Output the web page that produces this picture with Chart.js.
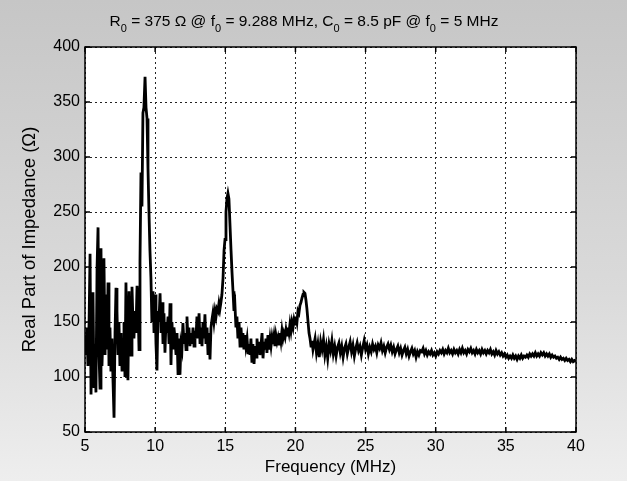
<!DOCTYPE html>
<html>
<head>
<meta charset="utf-8">
<script src="https://cdn.jsdelivr.net/npm/chart.js@4.4.1/dist/chart.umd.min.js"></script>
<style>
  html, body { margin: 0; padding: 0; background: #fff; }
  #wrap { width: 627px; height: 481px; }
</style>
</head>
<body>
<div id="wrap"><canvas id="impChart" width="627" height="481"></canvas></div>
<script>
// values (MHz, ohms)
const freqLow = [
  5.00,5.07,5.14,5.21,5.29,5.36,5.43,5.50,5.57,5.64,5.71,5.78,5.86,5.93,6.00,6.07,6.14,6.21,6.28,6.35,
  6.43,6.50,6.57,6.64,6.71,6.78,6.85,6.92,7.00,7.07,7.14,7.21,7.28,7.35,7.42,7.49,7.57,7.64,7.71,7.78,
  7.85,7.92,7.99,8.06,8.14,8.21,8.28,8.35,8.42,8.49,8.56,8.63,8.71,8.78,8.85,8.92,8.99,9.06,9.13,9.20,
  9.28,9.35,9.42,9.49,9.56,9.63,9.70,9.77,9.85,9.92,9.99
];
const realLow = [
  138,120,145,110,150,212,84,150,177,90,130,86,200,236,120,90,217,110,140,208,
  120,175,125,186,110,145,105,135,95,63,140,181,160,120,150,110,140,105,130,150,
  100,186,130,97,178,140,120,182,150,135,160,140,183,165,125,205,286,255,340,345,
  373,345,335,290,250,215,190,150,178,140,175
];

const freqMid = [
  10.06,10.13,10.20,10.27,10.35,10.42,10.49,10.56,10.63,10.70,10.77,10.84,10.92,10.99,11.06,11.13,11.20,11.27,11.34,11.41,
  11.49,11.56,11.63,11.70,11.77,11.84,11.91,11.98,12.06,12.13,12.20,12.27,12.34,12.41,12.48,12.56,12.63,12.70,12.77,12.84,
  12.91,12.98,13.05,13.13,13.20,13.27,13.34,13.41,13.48,13.55,13.62,13.70,13.77,13.84,13.91,13.98,14.05,14.12,14.19,14.27,
  14.34,14.41,14.48,14.55,14.62,14.69,14.76,14.84,14.91,14.98,15.05,15.12,15.19,15.26,15.33,15.41,15.48,15.55,15.62,15.69,
  15.76,15.83,15.90,15.98,16.05
];
const realMid = [
  130,106,160,150,176,140,168,130,158,122,150,140,155,130,167,111,150,125,145,136,
  120,140,103,135,102,130,125,149,130,140,125,155,132,145,128,140,130,145,128,142,
  135,155,135,158,130,145,128,150,135,157,130,145,120,140,116,145,152,158,150,160,
  155,162,160,167,162,168,175,190,215,225,250,262,267,262,240,215,195,178,160,165,
  145,155,135,150,128
];

const freqHigh = [
  16.12,16.19,16.26,16.33,16.40,16.47,16.55,16.62,16.69,16.76,16.83,16.90,16.97,17.05,17.12,17.19,17.26,17.33,17.40,17.47,
  17.54,17.62,17.69,17.76,17.83,17.90,17.97,18.04,18.11,18.19,18.26,18.33,18.40,18.47,18.54,18.61,18.69,18.76,18.83,18.90,
  18.97,19.04,19.11,19.18,19.26,19.33,19.40,19.47,19.54,19.61,19.68,19.75,19.83,19.90,19.97,20.04,20.11,20.18,20.25,20.32,
  20.40,20.47,20.54,20.61,20.68,20.75,20.82,20.90,20.97,21.04,21.11,21.18,21.25,21.32
];
const realHigh = [
  145,130,140,125,138,128,135,122,130,120,135,113,130,112,128,118,135,122,132,120,
  128,140,117,132,125,135,122,138,125,135,128,136,130,137,128,138,132,136,130,140,
  133,142,135,140,136,143,138,145,140,148,142,150,145,152,148,155,150,160,158,165,
  168,172,175,177,176,170,162,150,140,135,128,133,125,130
];

const freqTail = [
  21.4,21.5,21.6,21.7,21.8,21.9,22.0,22.1,22.2,22.3,22.4,22.5,22.6,22.7,22.8,22.9,23.0,23.1,23.2,23.3,
  23.4,23.5,23.6,23.7,23.8,23.9,24.0,24.1,24.2,24.3,24.4,24.5,24.6,24.7,24.8,24.9,25.0,25.1,25.2,25.3,
  25.4,25.5,25.6,25.7,25.8,25.9,26.0,26.1,26.2,26.3,26.4,26.5,26.6,26.7,26.8,26.9,27.0,27.1,27.2,27.3,
  27.4,27.5,27.6,27.7,27.8,27.9,28.0,28.1,28.2,28.3,28.4,28.5,28.6,28.7,28.8,28.9,29.0,29.1,29.2,29.3,
  29.4,29.5,29.6,29.7,29.8,29.9,30.0,30.1,30.2,30.3,30.4,30.5,30.6,30.7,30.8,30.9,31.0,31.1,31.2,31.3,
  31.4,31.5,31.6,31.7,31.8,31.9,32.0,32.1,32.2,32.3,32.4,32.5,32.6,32.7,32.8,32.9,33.0,33.1,33.2,33.3,
  33.4,33.5,33.6,33.7,33.8,33.9,34.0,34.1,34.2,34.3,34.4,34.5,34.6,34.7,34.8,34.9,35.0,35.1,35.2,35.3,
  35.4,35.5,35.6,35.7,35.8,35.9,36.0,36.1,36.2,36.3,36.4,36.5,36.6,36.7,36.8,36.9,37.0,37.1,37.2,37.3,
  37.4,37.5,37.6,37.7,37.8,37.9,38.0,38.1,38.2,38.3,38.4,38.5,38.6,38.7,38.8,38.9,39.0,39.1,39.2,39.3,
  39.4,39.5,39.6,39.7,39.8,39.9,40.0
];
const realTail = [
  135,122,130,118,132,125,134,120,128,117,130,124,133,121,128,119,127,131,122,128,
  118,126,130,121,127,132,123,129,119,126,131,124,128,120,127,133,125,129,121,127,
  123,130,125,128,122,129,126,131,124,128,122,127,130,125,129,123,127,121,125,128,
  122,126,120,124,127,121,125,119,123,126,121,124,118,123,120,124,123,126,121,124,
  120,123,121,124,120,122,119,123,121,124,122,125,121,124,122,126,122,124,121,125,
  122,124,121,125,122,126,122,124,121,125,123,126,122,124,121,125,122,124,121,125,
  122,124,121,124,122,125,121,123,120,124,121,123,120,122,119,121,118,120,117,119,
  117,120,117,119,116,119,117,120,117,119,118,120,118,121,119,121,119,122,119,121,
  119,122,120,122,119,121,119,121,118,120,118,119,117,118,116,118,116,117,115,117,
  115,116,114,116,114,115,114
];

const xTicks = [5, 10, 15, 20, 25, 30, 35, 40];
const yTicks = [50, 100, 150, 200, 250, 300, 350, 400];
const titleParts = [
  ['R', 0], ['0', 1], [' = 375 \u03A9 @ f', 0], ['0', 1], [' = 9.288 MHz, C', 0], ['0', 1],
  [' = 8.5 pF @ f', 0], ['0', 1], [' = 5 MHz', 0]
];

const FONT = "'Liberation Sans', Arial, sans-serif";

const freqAll = freqLow.concat(freqMid, freqHigh, freqTail);
const realAll = realLow.concat(realMid, realHigh, realTail);
const points = freqAll.map((f, i) => ({ x: f, y: realAll[i] }));

// grey scanned paper round a white axes box
const paperBg = {
  id: 'paperBg',
  beforeDraw(chart) {
    const { ctx, width, height, chartArea: a } = chart;
    ctx.save();
    const g = ctx.createLinearGradient(0, 0, 0, height);
    g.addColorStop(0, '#c6c6c6');
    g.addColorStop(0.6, '#dadada');
    g.addColorStop(1, '#eeeeee');
    ctx.fillStyle = g;
    ctx.fillRect(0, 0, width, height);
    ctx.fillStyle = '#fff';
    ctx.fillRect(a.left, a.top, a.right - a.left, a.bottom - a.top);
    ctx.restore();
  }
};

// matlab style box with ticks pointing inwards
const axesBox = {
  id: 'axesBox',
  afterDraw(chart) {
    const { ctx, chartArea: a, scales } = chart;
    ctx.save();
    ctx.strokeStyle = '#000';
    ctx.lineWidth = 1.5;
    ctx.beginPath();
    xTicks.forEach(v => {
      const px = scales.x.getPixelForValue(v);
      ctx.moveTo(px, a.bottom); ctx.lineTo(px, a.bottom - 5);
      ctx.moveTo(px, a.top); ctx.lineTo(px, a.top + 5);
    });
    yTicks.forEach(v => {
      const py = scales.y.getPixelForValue(v);
      ctx.moveTo(a.left, py); ctx.lineTo(a.left + 5, py);
      ctx.moveTo(a.right, py); ctx.lineTo(a.right - 5, py);
    });
    ctx.stroke();
    ctx.strokeRect(a.left, a.top, a.right - a.left, a.bottom - a.top);
    ctx.restore();
  }
};

// title with subscript zeros
const subTitle = {
  id: 'subTitle',
  afterDraw(chart) {
    const ctx = chart.ctx;
    const big = '15.5px ' + FONT, small = '11px ' + FONT;
    ctx.save();
    let total = 0;
    titleParts.forEach(([t, sub]) => { ctx.font = sub ? small : big; total += ctx.measureText(t).width; });
    let x = 304 - total / 2;
    const base = 26;
    ctx.fillStyle = '#000';
    ctx.textBaseline = 'alphabetic';
    titleParts.forEach(([t, sub]) => {
      ctx.font = sub ? small : big;
      ctx.fillText(t, x, sub ? base + 6 : base);
      x += ctx.measureText(t).width;
    });
    ctx.restore();
  }
};

new Chart(document.getElementById('impChart'), {
  type: 'line',
  data: {
    datasets: [{
      data: points,
      borderColor: '#000',
      borderWidth: 2.8,
      pointRadius: 0,
      tension: 0,
      fill: false
    }]
  },
  options: {
    responsive: false,
    animation: false,
    devicePixelRatio: 1,
    layout: { padding: { top: 47, right: 51, left: 0, bottom: 0 } },
    plugins: {
      legend: { display: false },
      title: { display: false },
      tooltip: { enabled: false }
    },
    scales: {
      x: {
        type: 'linear',
        min: 5,
        max: 40,
        afterBuildTicks: s => { s.ticks = xTicks.map(v => ({ value: v })); },
        afterFit: s => { s.height = 49; },
        grid: { color: '#222', lineWidth: 1, drawTicks: false },
        border: { display: false, dash: [2, 3] },
        ticks: { color: '#000', font: { family: FONT, size: 16 }, padding: 5, maxRotation: 0, autoSkip: false },
        title: { display: true, text: 'Frequency (MHz)', color: '#000', font: { family: FONT, size: 17 }, padding: { top: 0, bottom: 3 } }
      },
      y: {
        min: 50,
        max: 400,
        afterBuildTicks: s => { s.ticks = yTicks.map(v => ({ value: v })); },
        afterFit: s => { s.width = 85; },
        grid: { color: '#222', lineWidth: 1, drawTicks: false },
        border: { display: false, dash: [2, 3] },
        ticks: { color: '#000', font: { family: FONT, size: 16 }, padding: 5, autoSkip: false },
        title: { display: true, text: 'Real Part of Impedance (\u03A9)', color: '#000', font: { family: FONT, size: 18.5 }, padding: { top: 19, bottom: 0 } }
      }
    }
  },
  plugins: [paperBg, axesBox, subTitle]
});
</script>
</body>
</html>
